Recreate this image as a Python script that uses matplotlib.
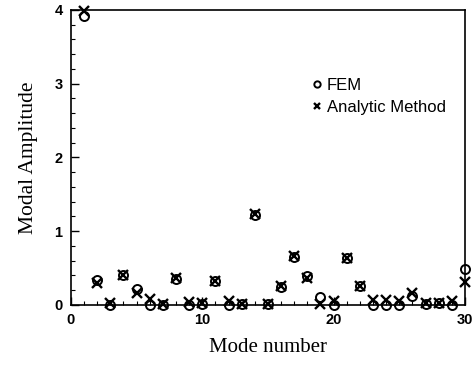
import matplotlib.pyplot as plt
import numpy as np
from matplotlib.ticker import MultipleLocator

modes = np.arange(1, 31)
fem = [3.92, 0.34, 0.0, 0.40, 0.22, 0.0, 0.0, 0.35, 0.0, 0.01,
       0.32, 0.0, 0.01, 1.22, 0.01, 0.24, 0.65, 0.39, 0.11, 0.0,
       0.64, 0.26, 0.0, 0.0, 0.0, 0.12, 0.01, 0.03, 0.0, 0.49]
analytic = [3.99, 0.30, 0.03, 0.40, 0.16, 0.08, 0.01, 0.36, 0.04, 0.02,
            0.32, 0.05, 0.01, 1.23, 0.01, 0.25, 0.66, 0.37, 0.01, 0.05,
            0.63, 0.26, 0.06, 0.07, 0.05, 0.16, 0.02, 0.03, 0.05, 0.31]

fig = plt.figure(figsize=(4.73, 3.66), dpi=100)
ax = fig.add_axes([0.150, 0.167, 0.833, 0.806])

ax.plot(modes, fem, linestyle="none", marker="o", markersize=6.5,
        markerfacecolor="none", markeredgecolor="black", markeredgewidth=1.4,
        clip_on=False, label="FEM")
ax.plot(modes, analytic, linestyle="none", marker="x", markersize=7,
        color="black", markeredgewidth=1.7, clip_on=False,
        label="Analytic Method")

ax.set_xlim(0, 30)
ax.set_ylim(0, 4)
ax.xaxis.set_major_locator(MultipleLocator(10))
ax.xaxis.set_minor_locator(MultipleLocator(1))
ax.yaxis.set_major_locator(MultipleLocator(1))
ax.yaxis.set_minor_locator(MultipleLocator(0.2))
ax.tick_params(which="both", direction="in", top=False, right=False)
ax.tick_params(which="major", length=6, width=1, labelsize=10.5, pad=6)
ax.tick_params(which="minor", length=3, width=0.8)
for lab in ax.get_xticklabels() + ax.get_yticklabels():
    lab.set_fontfamily("Liberation Sans")
    lab.set_fontweight("bold")
for s in ax.spines.values():
    s.set_linewidth(1.2)

ax.set_xlabel("Mode number", fontfamily="Liberation Serif", fontsize=15,
              labelpad=8)
ax.set_ylabel("Modal Amplitude", fontfamily="Liberation Serif", fontsize=15.5,
              labelpad=12)

leg = ax.legend(loc="upper left", bbox_to_anchor=(0.575, 0.82), frameon=False,
                handlelength=0.5, handletextpad=0.35, markerscale=0.7,
                labelspacing=0.4, prop={"family": "Liberation Sans", "size": 12})

fig.savefig("out.png", dpi=100)
